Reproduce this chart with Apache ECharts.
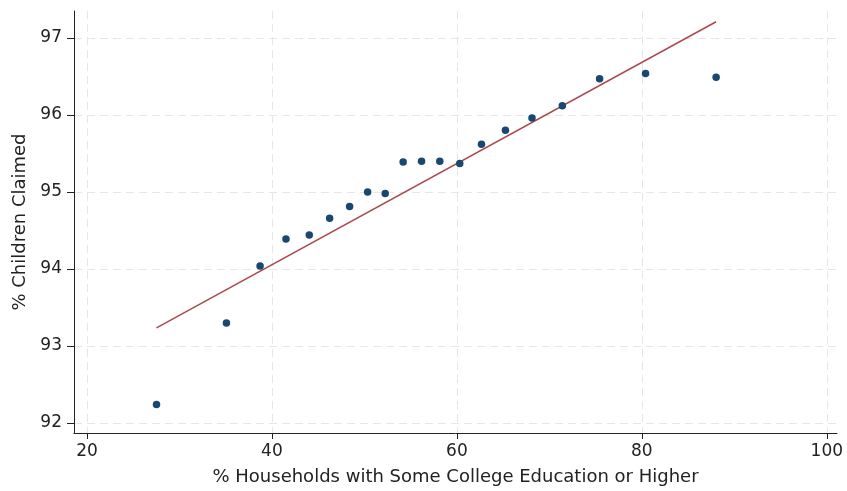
<!DOCTYPE html>
<html>
<head>
<meta charset="utf-8">
<script src="https://cdn.jsdelivr.net/npm/echarts@6/dist/echarts.min.js"></script>
<style>html,body{margin:0;padding:0;background:#fff}#c{width:847px;height:491px}</style>
</head>
<body>
<div id="c"></div>
<script>
const xVals = [27.52, 35.08, 38.72, 41.52, 44.04, 46.24, 48.40, 50.35, 52.25, 54.19, 56.18, 58.15, 60.31, 62.66, 65.25, 68.12, 71.40, 75.43, 80.40, 88.03];
const yVals = [92.24, 93.30, 94.04, 94.39, 94.44, 94.66, 94.81, 95.00, 94.98, 95.39, 95.40, 95.40, 95.37, 95.62, 95.80, 95.96, 96.12, 96.47, 96.54, 96.49];
const fitX = [27.52, 88.03];
const fitY = [93.235, 97.21];
const xTicks = [20, 40, 60, 80, 100];
const yTicks = [92, 93, 94, 95, 96, 97];

const font = 'DejaVu Sans';
const txt = '#222';
const splitStyle = {show: true, lineStyle: {color: '#e6e6e6', width: 1, type: [8, 5]}};

const chart = echarts.init(document.getElementById('c'), null, {renderer: 'canvas'});
chart.setOption({
  animation: false,
  backgroundColor: '#fff',
  grid: {left: 74, right: 10, top: 11, bottom: 57, containLabel: false},
  xAxis: {
    type: 'value', min: 18.6, max: 101.1,
    name: '% Households with Some College Education or Higher',
    nameLocation: 'middle', nameGap: 35,
    nameTextStyle: {fontFamily: font, fontSize: 18, color: txt},
    axisLine: {show: true, onZero: false, lineStyle: {color: '#222', width: 1}},
    axisTick: {show: true, length: 6, customValues: xTicks, lineStyle: {color: '#222'}},
    axisLabel: {customValues: xTicks, fontFamily: font, fontSize: 17, color: txt, margin: 10},
    splitLine: splitStyle
  },
  yAxis: {
    type: 'value', min: 91.87, max: 97.35,
    name: '% Children Claimed',
    nameLocation: 'middle', nameGap: 45,
    nameTextStyle: {fontFamily: font, fontSize: 18, color: txt},
    axisLine: {show: true, onZero: false, lineStyle: {color: '#222', width: 1}},
    axisTick: {show: true, length: 7, customValues: yTicks, lineStyle: {color: '#222'}},
    axisLabel: {customValues: yTicks, fontFamily: font, fontSize: 17, color: txt, margin: 12},
    splitLine: splitStyle
  },
  series: [
    {
      type: 'line',
      data: fitX.map((x, i) => [x, fitY[i]]),
      showSymbol: false, symbol: 'none',
      lineStyle: {color: '#aa4a50', width: 1.5},
      z: 2
    },
    {
      type: 'scatter',
      data: xVals.map((x, i) => [x, yVals[i]]),
      symbolSize: 7.5,
      itemStyle: {color: '#1a476f', opacity: 1},
      z: 3
    }
  ]
});
</script>
</body>
</html>
